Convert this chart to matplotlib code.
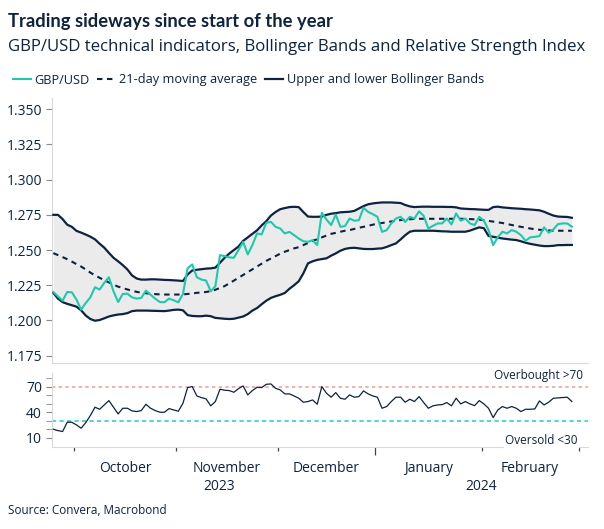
import matplotlib.pyplot as plt
import numpy as np
import pandas as pd

# business-day series, 25 Sep 2023 - 28 Feb 2024
gbpusd = [
    1.2202, 1.2171, 1.2140, 1.2202, 1.2200, 1.2148, 1.2076, 1.2124, 1.2164, 1.2236,
    1.2219, 1.2267, 1.2307, 1.2207, 1.2131, 1.2188, 1.2190, 1.2164, 1.2155, 1.2160,
    1.2212, 1.2183, 1.2155, 1.2131, 1.2129, 1.2155, 1.2143, 1.2129, 1.2188, 1.2369,
    1.2398, 1.2307, 1.2290, 1.2283, 1.2207, 1.2243, 1.2464, 1.2457, 1.2448, 1.2445,
    1.2500, 1.2558, 1.2469, 1.2535, 1.2618, 1.2611, 1.2693, 1.2700, 1.2665, 1.2653,
    1.2618, 1.2629, 1.2606, 1.2582, 1.2563, 1.2558, 1.2570, 1.2535, 1.2764, 1.2717,
    1.2677, 1.2752, 1.2665, 1.2670, 1.2724, 1.2708, 1.2712, 1.2800, 1.2771, 1.2755,
    1.2736, 1.2629, 1.2641, 1.2689, 1.2724, 1.2736, 1.2700, 1.2736, 1.2724, 1.2775,
    1.2742, 1.2653, 1.2672, 1.2689, 1.2689, 1.2724, 1.2682, 1.2760, 1.2708, 1.2724,
    1.2689, 1.2677, 1.2736, 1.2708, 1.2642, 1.2535, 1.2590, 1.2630, 1.2618, 1.2642,
    1.2630, 1.2606, 1.2566, 1.2590, 1.2594, 1.2599, 1.2661, 1.2623, 1.2646, 1.2684,
    1.2689, 1.2689, 1.2666,
]
ma21 = [
    1.2478, 1.2464, 1.2450, 1.2435, 1.2418, 1.2400, 1.2383, 1.2362, 1.2340, 1.2320,
    1.2303, 1.2286, 1.2270, 1.2254, 1.2240, 1.2230, 1.2220, 1.2211, 1.2203, 1.2197,
    1.2193, 1.2190, 1.2187, 1.2185, 1.2184, 1.2184, 1.2184, 1.2184, 1.2185, 1.2188,
    1.2192, 1.2196, 1.2199, 1.2202, 1.2208, 1.2218, 1.2231, 1.2244, 1.2263, 1.2283,
    1.2303, 1.2323, 1.2343, 1.2363, 1.2383, 1.2403, 1.2423, 1.2440, 1.2457, 1.2474,
    1.2488, 1.2500, 1.2512, 1.2520, 1.2535, 1.2550, 1.2565, 1.2577, 1.2590, 1.2603,
    1.2615, 1.2622, 1.2630, 1.2637, 1.2642, 1.2650, 1.2658, 1.2665, 1.2672, 1.2680,
    1.2687, 1.2692, 1.2697, 1.2703, 1.2708, 1.2713, 1.2716, 1.2719, 1.2721, 1.2722,
    1.2722, 1.2722, 1.2722, 1.2722, 1.2722, 1.2722, 1.2722, 1.2722, 1.2722, 1.2721,
    1.2720, 1.2718, 1.2716, 1.2712, 1.2707, 1.2702, 1.2697, 1.2692, 1.2685, 1.2678,
    1.2671, 1.2665, 1.2659, 1.2653, 1.2648, 1.2644, 1.2641, 1.2639, 1.2637, 1.2637,
    1.2637, 1.2637, 1.2637,
]
upper_band = [
    1.2750, 1.2750, 1.2720, 1.2680, 1.2665, 1.2636, 1.2624, 1.2610, 1.2595, 1.2576,
    1.2545, 1.2517, 1.2480, 1.2445, 1.2420, 1.2393, 1.2362, 1.2320, 1.2298, 1.2290,
    1.2290, 1.2292, 1.2292, 1.2290, 1.2288, 1.2287, 1.2285, 1.2283, 1.2280, 1.2326,
    1.2355, 1.2360, 1.2364, 1.2368, 1.2370, 1.2375, 1.2410, 1.2445, 1.2475, 1.2500,
    1.2525, 1.2565, 1.2590, 1.2615, 1.2640, 1.2675, 1.2705, 1.2745, 1.2770, 1.2790,
    1.2798, 1.2805, 1.2807, 1.2805, 1.2770, 1.2738, 1.2736, 1.2736, 1.2738, 1.2750,
    1.2758, 1.2762, 1.2768, 1.2770, 1.2772, 1.2778, 1.2795, 1.2812, 1.2825, 1.2831,
    1.2835, 1.2838, 1.2838, 1.2838, 1.2836, 1.2834, 1.2820, 1.2810, 1.2805, 1.2807,
    1.2808, 1.2808, 1.2807, 1.2807, 1.2807, 1.2806, 1.2806, 1.2803, 1.2795, 1.2793,
    1.2791, 1.2790, 1.2788, 1.2786, 1.2785, 1.2805, 1.2808, 1.2803, 1.2800, 1.2797,
    1.2795, 1.2793, 1.2790, 1.2788, 1.2785, 1.2782, 1.2772, 1.2758, 1.2745, 1.2738,
    1.2736, 1.2735, 1.2729,
]
lower_band = [
    1.2196, 1.2155, 1.2130, 1.2118, 1.2108, 1.2098, 1.2072, 1.2035, 1.2010, 1.1998,
    1.2003, 1.2015, 1.2028, 1.2036, 1.2042, 1.2045, 1.2052, 1.2066, 1.2070, 1.2070,
    1.2070, 1.2069, 1.2068, 1.2067, 1.2066, 1.2070, 1.2075, 1.2077, 1.2072, 1.2038,
    1.2032, 1.2030, 1.2030, 1.2034, 1.2030, 1.2018, 1.2015, 1.2012, 1.2010, 1.2012,
    1.2020, 1.2028, 1.2045, 1.2070, 1.2088, 1.2115, 1.2140, 1.2160, 1.2172, 1.2182,
    1.2195, 1.2225, 1.2250, 1.2278, 1.2334, 1.2405, 1.2420, 1.2430, 1.2436, 1.2441,
    1.2460, 1.2476, 1.2495, 1.2508, 1.2514, 1.2516, 1.2512, 1.2508, 1.2507, 1.2507,
    1.2510, 1.2512, 1.2522, 1.2535, 1.2547, 1.2575, 1.2605, 1.2630, 1.2637, 1.2637,
    1.2637, 1.2637, 1.2637, 1.2635, 1.2633, 1.2632, 1.2630, 1.2630, 1.2630, 1.2630,
    1.2638, 1.2650, 1.2661, 1.2655, 1.2600, 1.2594, 1.2588, 1.2582, 1.2578, 1.2574,
    1.2571, 1.2562, 1.2552, 1.2544, 1.2538, 1.2532, 1.2528, 1.2528, 1.2530, 1.2535,
    1.2535, 1.2536, 1.2536,
]
rsi = [
    19.8, 18.2, 17.1, 28.0, 28.0, 24.9, 21.0, 27.6, 35.9, 45.7,
    43.3, 48.4, 53.5, 45.7, 37.8, 44.5, 44.5, 41.4, 40.6, 41.8,
    49.2, 44.5, 41.8, 39.8, 39.8, 44.1, 42.5, 41.0, 50.4, 68.8,
    70.0, 59.0, 57.0, 55.5, 47.3, 52.4, 66.9, 65.7, 65.3, 63.3,
    67.6, 70.8, 60.2, 65.3, 69.2, 68.8, 72.7, 73.1, 68.0, 66.1,
    61.4, 61.4, 59.0, 56.3, 51.6, 52.4, 54.3, 49.2, 70.0, 62.2,
    57.5, 62.9, 56.3, 55.1, 60.2, 57.5, 58.2, 64.9, 61.4, 59.0,
    57.5, 44.5, 46.5, 52.4, 57.5, 57.5, 51.6, 55.1, 52.4, 58.2,
    51.2, 44.5, 47.3, 48.4, 48.8, 51.2, 47.3, 56.3, 49.6, 52.4,
    49.6, 47.6, 53.5, 49.6, 44.5, 33.5, 42.5, 46.5, 44.5, 46.5,
    44.5, 40.6, 43.3, 43.3, 43.7, 53.1, 48.4, 51.6, 56.3, 56.7,
    57.1, 57.5, 52.4,
]
month_labels = ["October", "November", "December", "January", "February"]
year_labels = ["2023", "2024"]

NAVY = "#0D2340"
TEAL = "#1EC8AF"
GREY = "#D9D9D9"

plt.rcParams["font.family"] = ["Open Sans", "DejaVu Sans"]

dates = pd.bdate_range("2023-09-25", "2024-03-29")
x = np.arange(len(gbpusd))
month_start = [np.where((dates.month == m) & (dates.year == y))[0][0] - 0.5
               for y, m in [(2023, 10), (2023, 11), (2023, 12), (2024, 1), (2024, 2), (2024, 3)]]
month_mid = [(a + b) / 2 for a, b in zip(month_start[:-1], month_start[1:])]

fig = plt.figure(figsize=(6.04, 5.29), dpi=100)
ax = fig.add_axes([0.0856, 0.3144, 0.888, 0.5004])
ax2 = fig.add_axes([0.0856, 0.1544, 0.888, 0.1405])

ax.fill_between(x, lower_band, upper_band, color="#EBEBEB", lw=0, zorder=1)
ax.plot(x, upper_band, color=NAVY, lw=1.6, zorder=3, label="Upper and lower Bollinger Bands")
ax.plot(x, lower_band, color=NAVY, lw=1.6, zorder=3)
ax.plot(x, ma21, color=NAVY, lw=1.5, ls=(0, (2.6, 2.2)), zorder=4, label="21-day moving average")
ax.plot(x, gbpusd, color=TEAL, lw=1.5, zorder=5, label="GBP/USD")

xlim = (-0.35, 115.5)
ax.set_xlim(xlim)
ax.set_ylim(1.170, 1.358)
ax.set_yticks(np.arange(1.175, 1.351, 0.025))
ax.set_yticklabels([f"{v:.3f}" for v in np.arange(1.175, 1.351, 0.025)])
ax.set_xticks([])
for s in ["top", "right"]:
    ax.spines[s].set_visible(False)
for s in ["left", "bottom"]:
    ax.spines[s].set_color(GREY)
ax.tick_params(axis="y", labelsize=10, colors=NAVY, color="#888", length=4, pad=3)

# RSI panel
ax2.plot(x, rsi, color=NAVY, lw=0.9, zorder=3)
ax2.axhline(70, color="#F2A397", lw=1.2, ls=(0, (2, 2)), zorder=2)
ax2.axhline(30, color="#2ED3BD", lw=1.2, ls=(0, (2.5, 2)), zorder=2)
ax2.set_xlim(xlim)
ax2.set_ylim(-1.5, 86)
ax2.set_yticks([10, 40, 70])
ax2.set_yticks([20, 30, 50, 60, 80], minor=True)
ax2.tick_params(axis="y", which="both", labelsize=10, colors=NAVY, color="#888", length=4, pad=3)
for s in ["top", "right"]:
    ax2.spines[s].set_visible(False)
for s in ["left", "bottom"]:
    ax2.spines[s].set_color(GREY)

ax2.set_xticks(month_start)
ax2.set_xticklabels([])
ax2.set_xticks(month_mid, minor=True)
ax2.set_xticklabels(month_labels, minor=True)
ax2.tick_params(axis="x", which="major", length=3, color="#444", width=0.9)
ax2.tick_params(axis="x", which="minor", length=0, labelsize=10, colors=NAVY, pad=10)
ax2.xaxis.get_major_ticks()[3].tick1line.set_markersize(6)

ax2.text(month_start[0] / 2 + month_start[3] / 2 - 1.2, -0.53, year_labels[0], transform=ax2.get_xaxis_transform(),
         ha="center", va="center", fontsize=10, color=NAVY)
ax2.text((month_start[3] + xlim[1]) / 2, -0.53, year_labels[1], transform=ax2.get_xaxis_transform(),
         ha="center", va="center", fontsize=10, color=NAVY)
ax2.text(0.991, 82.6, "Overbought >70", transform=ax2.get_yaxis_transform(), ha="right", va="center",
         fontsize=8.5, color=NAVY)
ax2.text(0.981, 6.1, "Oversold <30", transform=ax2.get_yaxis_transform(), ha="right", va="center",
         fontsize=8.5, color=NAVY, bbox=dict(facecolor="white", edgecolor="none", pad=1), zorder=6)

fig.text(0.013, 1 - 22 / 529, "Trading sideways since start of the year", fontsize=13.2, fontweight="bold",
         family=["Lato", "DejaVu Sans"], color=NAVY, va="center")
fig.text(0.013, 1 - 47 / 529, "GBP/USD technical indicators, Bollinger Bands and Relative Strength Index",
         fontsize=12.1, color=NAVY, va="center")
fig.text(0.013, 1 - 511 / 529, "Source: Convera, Macrobond", fontsize=8.5, color=NAVY, va="center")

handles, labels = ax.get_legend_handles_labels()
order = [2, 1, 0]
fig.legend([handles[i] for i in order], [labels[i] for i in order], loc="center left",
           bbox_to_anchor=(0.002, 1 - 80 / 529), ncol=3, frameon=False, fontsize=9.2,
           handlelength=1.4, handletextpad=0.3, columnspacing=0.6, labelcolor=NAVY)

fig.savefig("out.png", dpi=100)
